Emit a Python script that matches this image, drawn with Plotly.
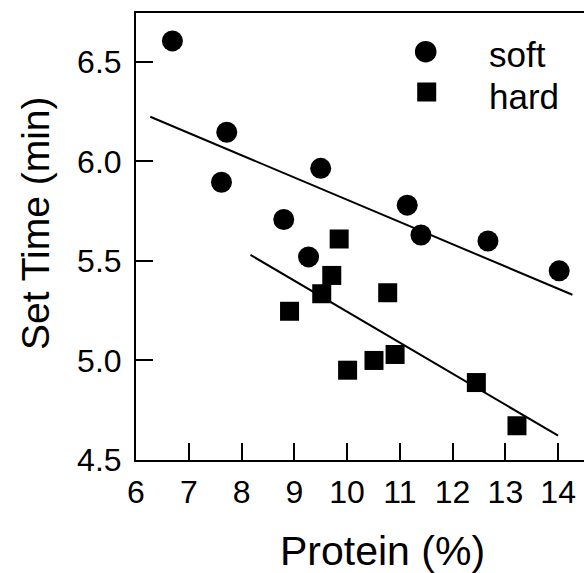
import plotly.graph_objects as go

# Data
soft_protein = [6.69, 7.72, 7.62, 8.80, 9.27, 9.50, 11.14, 11.40, 12.67, 14.02]
soft_time = [6.605, 6.146, 5.895, 5.708, 5.52, 5.965, 5.78, 5.63, 5.60, 5.45]

hard_protein = [8.91, 9.52, 9.85, 9.71, 10.77, 10.01, 10.51, 10.91, 12.45, 13.22]
hard_time = [5.247, 5.335, 5.61, 5.427, 5.34, 4.951, 5.00, 5.03, 4.889, 4.672]

soft_fit_x = [6.27, 14.27]
soft_fit_y = [6.224, 5.33]
hard_fit_x = [8.17, 14.0]
hard_fit_y = [5.53, 4.622]

x_ticks = [6, 7, 8, 9, 10, 11, 12, 13, 14]
y_ticks = [4.5, 5.0, 5.5, 6.0, 6.5]
y_tick_text = ["4.5", "5.0", "5.5", "6.0", "6.5"]

W, H = 584, 573
L, T, R, B = 136, 13, 584, 460
FONT = "Liberation Sans, Arial, sans-serif"


def px(x):
    return (x - L) / (R - L)


def py(y):
    return (B - y) / (B - T)


fig = go.Figure()
fig.add_trace(go.Scatter(x=soft_fit_x, y=soft_fit_y, mode="lines",
                         line=dict(color="black", width=2), showlegend=False))
fig.add_trace(go.Scatter(x=hard_fit_x, y=hard_fit_y, mode="lines",
                         line=dict(color="black", width=2), showlegend=False))
fig.add_trace(go.Scatter(x=soft_protein, y=soft_time, mode="markers", name="soft",
                         marker=dict(symbol="circle", size=21, color="black", line=dict(width=0)),
                         showlegend=False))
fig.add_trace(go.Scatter(x=hard_protein, y=hard_time, mode="markers", name="hard",
                         marker=dict(symbol="square", size=19, color="black", line=dict(width=0)),
                         showlegend=False))

# Manual legend
r = 10.8
fig.add_shape(type="circle", xref="paper", yref="paper",
              x0=px(425.7 - r), x1=px(425.7 + r), y0=py(51.7 + r), y1=py(51.7 - r),
              fillcolor="black", line=dict(width=0))
s = 9.5
fig.add_shape(type="rect", xref="paper", yref="paper",
              x0=px(426.7 - s), x1=px(426.7 + s), y0=py(92 + s), y1=py(92 - s),
              fillcolor="black", line=dict(width=0))
fig.add_annotation(text="soft", xref="paper", yref="paper", x=px(487), y=py(54),
                   xanchor="left", yanchor="middle", showarrow=False,
                   font=dict(family=FONT, size=35, color="black"))
fig.add_annotation(text="hard", xref="paper", yref="paper", x=px(487), y=py(96.5),
                   xanchor="left", yanchor="middle", showarrow=False,
                   font=dict(family=FONT, size=35, color="black"))

# Axis titles
fig.add_annotation(text="Protein (%)", xref="paper", yref="paper", x=px(382), y=py(551),
                   xanchor="center", yanchor="middle", showarrow=False,
                   font=dict(family=FONT, size=41, color="black"))
fig.add_annotation(text="Set Time (min)", xref="paper", yref="paper", x=px(35), y=py(223),
                   xanchor="center", yanchor="middle", showarrow=False, textangle=-90,
                   font=dict(family=FONT, size=39, color="black"))

fig.update_layout(
    width=W, height=H,
    margin=dict(l=L, r=W - R, t=T, b=H - B, pad=0),
    paper_bgcolor="white", plot_bgcolor="white",
    font=dict(family=FONT, color="black"),
    showlegend=False,
)
fig.update_xaxes(range=[6, 14.49], tickvals=x_ticks, ticks="inside", ticklen=17, tickwidth=1.5,
                 tickcolor="black", showline=True, linecolor="black", linewidth=2, mirror=True,
                 showgrid=False, zeroline=False, tickfont=dict(size=32, family=FONT),
                 ticklabelstandoff=3)
fig.update_yaxes(range=[4.5, 6.745], tickvals=y_ticks, ticktext=y_tick_text, ticks="inside",
                 ticklen=17, tickwidth=1.5, tickcolor="black", showline=True, linecolor="black",
                 linewidth=2, mirror=False, showgrid=False, zeroline=False,
                 tickfont=dict(size=32, family=FONT), ticklabelstandoff=6)

fig.write_html("out.html")
